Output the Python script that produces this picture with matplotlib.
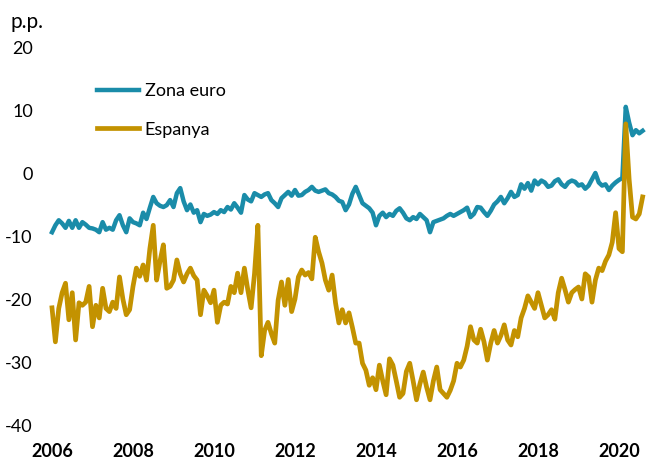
import numpy as np
import matplotlib
matplotlib.use("Agg")
import matplotlib.pyplot as plt

# Monthly series, Jan 2006 - Aug 2020 (p.p.)
zona_euro = [
    -9.4, -8.3, -7.5, -8.0, -8.7, -7.6, -8.7, -7.5, -8.7, -7.8, -8.2, -8.7,  # 2006
    -8.8, -9.0, -9.4, -7.8, -9.0, -8.7, -9.0, -7.5, -6.7, -8.3, -9.4, -7.2,  # 2007
    -7.8, -8.0, -8.3, -6.3, -7.3, -5.5, -3.8, -4.8, -5.2, -5.4, -5.1, -4.3,  # 2008
    -5.4, -3.2, -2.4, -4.5, -5.9, -5.0, -6.3, -5.9, -7.8, -6.5, -6.8, -6.6,  # 2009
    -6.2, -6.5, -5.9, -6.2, -5.4, -5.8, -4.8, -5.5, -6.3, -3.5, -4.2, -4.5,  # 2010
    -3.2, -3.5, -3.8, -3.4, -3.2, -4.3, -4.8, -5.4, -4.0, -3.5, -3.0, -3.6,  # 2011
    -2.7, -3.6, -3.5, -3.0, -2.7, -2.2, -2.8, -3.0, -2.8, -2.6, -3.2, -3.4,  # 2012
    -3.8, -4.4, -4.6, -5.9, -5.0, -3.3, -2.2, -3.5, -4.8, -5.2, -5.6, -6.3,  # 2013
    -8.3, -6.8, -6.3, -7.0, -6.5, -6.8, -6.0, -5.6, -6.3, -7.2, -7.5, -7.0,  # 2014
    -7.3, -6.5, -7.0, -7.5, -9.4, -7.8, -7.6, -7.4, -7.2, -6.8, -6.5, -6.8,  # 2015
    -6.5, -6.2, -5.9, -5.5, -7.0, -6.5, -5.4, -5.5, -6.2, -6.8, -6.0, -5.0,  # 2016
    -4.5, -3.8, -4.8, -4.0, -3.0, -3.8, -3.5, -1.8, -2.5, -1.6, -2.8, -1.2,  # 2017
    -1.8, -1.2, -1.5, -2.2, -2.0, -1.3, -1.0, -1.8, -2.2, -1.5, -1.2, -1.4,  # 2018
    -2.0, -1.8, -2.5, -2.0, -1.0, 0.0, -1.5, -2.0, -1.8, -2.7, -2.0, -1.5,   # 2019
    -1.1, -0.8, 10.5, 8.0, 6.0, 6.8, 6.3, 6.7,                               # 2020
]

espanya = [
    -21.4, -26.8, -21.5, -19.0, -17.5, -23.3, -19.0, -26.5, -20.6, -21.0, -20.5, -18.0,  # 2006
    -24.4, -21.0, -23.0, -18.3, -21.5, -22.0, -20.5, -21.5, -16.5, -20.0, -22.5, -21.7,  # 2007
    -18.0, -15.1, -16.4, -14.6, -17.0, -12.0, -8.3, -17.0, -14.0, -11.4, -18.3, -18.0,   # 2008
    -17.0, -13.8, -16.0, -17.3, -16.0, -15.1, -16.3, -17.0, -22.5, -18.6, -19.5, -20.6,  # 2009
    -18.6, -23.7, -21.0, -20.5, -20.8, -18.0, -19.0, -15.9, -19.0, -15.1, -18.5, -21.4,  # 2010
    -16.0, -8.3, -29.0, -25.0, -23.7, -25.5, -27.0, -20.2, -17.3, -21.0, -16.9, -22.0,   # 2011
    -20.0, -16.5, -15.4, -16.2, -15.8, -16.8, -10.2, -12.5, -14.3, -17.0, -18.6, -16.2,  # 2012
    -20.6, -23.8, -21.7, -23.8, -22.2, -24.5, -27.0, -27.0, -30.2, -31.3, -33.7, -32.5,  # 2013
    -34.4, -30.5, -33.0, -35.2, -29.5, -30.5, -33.0, -35.6, -35.0, -31.5, -30.2, -33.0,  # 2014
    -36.0, -33.5, -31.6, -34.0, -36.0, -33.0, -30.8, -34.4, -35.0, -35.6, -34.5, -33.0,  # 2015
    -30.2, -30.8, -29.7, -27.5, -24.4, -26.5, -27.0, -24.8, -26.8, -29.7, -27.0, -25.0,  # 2016
    -27.0, -25.8, -24.1, -26.5, -27.3, -25.0, -26.0, -23.0, -21.5, -19.5, -20.5, -21.5,  # 2017
    -19.0, -21.0, -23.0, -22.5, -21.7, -23.2, -19.0, -16.7, -18.5, -20.5, -19.0, -18.5,  # 2018
    -18.1, -20.0, -16.0, -16.5, -20.5, -17.0, -15.1, -15.5, -14.0, -13.0, -11.0, -6.3,   # 2019
    -12.0, -12.5, 7.8, -1.0, -7.0, -7.3, -6.5, -3.8,                                     # 2020
]

start_year = 2006
year_ticks = [2006, 2008, 2010, 2012, 2014, 2016, 2018, 2020]
y_ticks = [-40, -30, -20, -10, 0, 10, 20]

BLUE = "#1A8CA9"
GOLD = "#C39200"

plt.rcParams["font.family"] = ["Lato", "DejaVu Sans"]
plt.rcParams["axes.unicode_minus"] = False

t = start_year + np.arange(len(zona_euro)) / 12.0

W, H = 654, 461
fig = plt.figure(figsize=(W / 100, H / 100), dpi=100)
x0, x1 = 43.9, 651.4
y0, y1 = 47, 425
ax = fig.add_axes([x0 / W, 1 - y1 / H, (x1 - x0) / W, (y1 - y0) / H])

ax.plot(t, zona_euro, color=BLUE, lw=3.2, label="Zona euro", solid_joinstyle="round")
ax.plot(t, espanya, color=GOLD, lw=3.4, label="Espanya", solid_joinstyle="round")

ax.set_xlim(2005.8, 2020.8)
ax.set_ylim(-40, 20)
ax.set_xticks(year_ticks)
ax.set_xticklabels([str(y) for y in year_ticks], fontweight="bold", fontsize=13)
ax.set_yticks(y_ticks)
ax.set_yticklabels([str(v) for v in y_ticks], fontsize=13)
ax.tick_params(axis="both", length=0, colors="black")
ax.tick_params(axis="y", pad=8)
ax.tick_params(axis="x", pad=13)
for s in ax.spines.values():
    s.set_visible(False)

fig.text(11 / W, 1 - 28 / H, "p.p.", fontsize=15)

leg = fig.legend(loc="upper left", bbox_to_anchor=(97 / W, 1 - 83 / H), frameon=False,
                 fontsize=13, handlelength=2.3, handletextpad=0.35, labelspacing=1.25,
                 borderpad=0, borderaxespad=0)

fig.savefig("out.png", dpi=100)
